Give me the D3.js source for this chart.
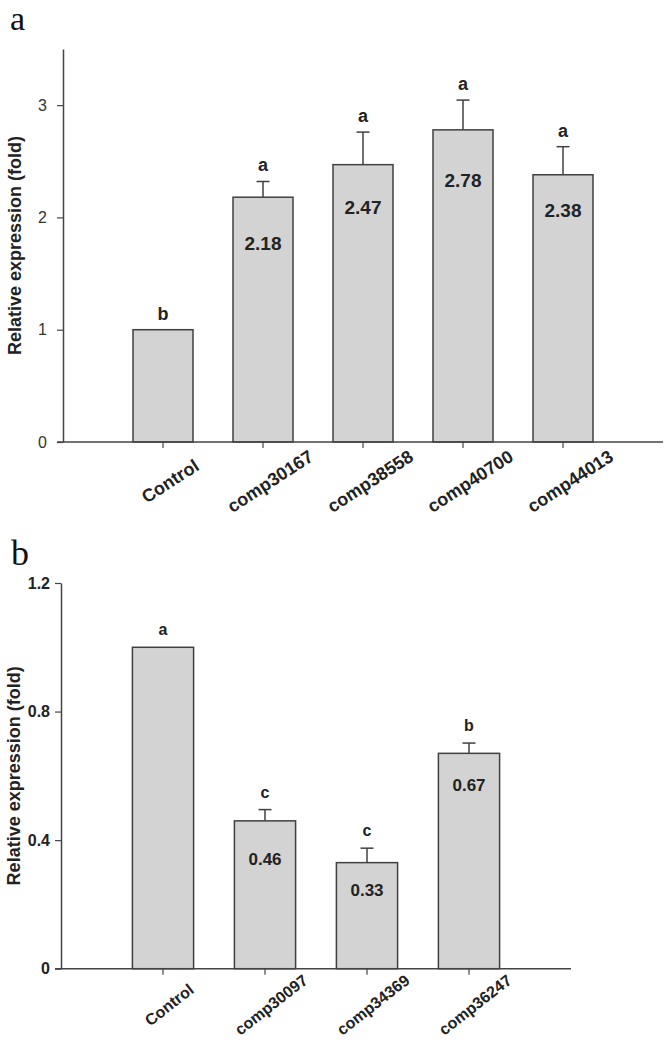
<!DOCTYPE html>
<html>
<head>
<meta charset="utf-8">
<script src="https://cdn.jsdelivr.net/npm/d3@7"></script>
<style>
  html, body { margin: 0; padding: 0; background: #fff; }
  svg { display: block; }
  text { font-family: "Liberation Sans", Arial, sans-serif; }
</style>
</head>
<body>
<svg id="chart" width="666" height="1046"></svg>
<script>
// ---------- Data ----------
const categoriesA = ["Control", "comp30167", "comp38558", "comp40700", "comp44013"];
const valuesA     = [1.00, 2.18, 2.47, 2.78, 2.38];
const errorsA     = [0, 0.14, 0.29, 0.265, 0.25];
const lettersA    = ["b", "a", "a", "a", "a"];
const valueTextA  = ["", "2.18", "2.47", "2.78", "2.38"];
const ticksA      = [0, 1, 2, 3];

const categoriesB = ["Control", "comp30097", "comp34369", "comp36247"];
const valuesB     = [1.00, 0.46, 0.33, 0.67];
const errorsB     = [0, 0.035, 0.045, 0.032];
const lettersB    = ["a", "c", "c", "b"];
const valueTextB  = ["", "0.46", "0.33", "0.67"];
const ticksB      = [0, 0.4, 0.8, 1.2];

const yTitle = "Relative expression (fold)";

// ---------- Layout (not data) ----------
const panels = [
  {
    tag: "a", tagX: 10, tagY: 30, tagSize: 34,
    cats: categoriesA, vals: valuesA, errs: errorsA, letters: lettersA, vtext: valueTextA,
    ticks: ticksA, tickFmt: d => d3.format("d")(d),
    yDomain: [0, 3.5], yRange: [442, 49], xRange: [63, 663],
    tickFont: "400 16px", tickPad: 10, tickColor: "#333",
    letterFont: 18, letterGap: 10, valueFont: 19, valueDy: [0, 46, 43, 50, 35],
    xLabFont: 18, xLabAngle: -33, xLabDx: 7, xLabDy: 39,
    titleX: 21, titleFont: 18
  },
  {
    tag: "b", tagX: 11, tagY: 565, tagSize: 36,
    cats: categoriesB, vals: valuesB, errs: errorsB, letters: lettersB, vtext: valueTextB,
    ticks: ticksB, tickFmt: d => d === 0 ? "0" : d3.format(".1f")(d),
    yDomain: [0, 1.2], yRange: [968.7, 583], xRange: [61, 571],
    tickFont: "700 16px", tickPad: 5, tickColor: "#222",
    letterFont: 16, letterGap: 12, valueFont: 17, valueDy: [0, 38, 27, 32],
    xLabFont: 16, xLabAngle: -38, xLabDx: 6, xLabDy: 36,
    titleX: 20, titleFont: 18
  }
];

const svg = d3.select("#chart");
const axisColor = "#444";
const barFill = "#d3d3d3";
const barStroke = "#404040";

panels.forEach(p => {
  const g = svg.append("g");
  const x = d3.scaleBand().domain(p.cats).range(p.xRange).paddingInner(0.4).paddingOuter(0.7);
  const y = d3.scaleLinear().domain(p.yDomain).range(p.yRange);
  const y0 = y(0);

  // panel tag
  g.append("text")
    .attr("x", p.tagX).attr("y", p.tagY)
    .style("font-family", "'Liberation Serif', 'Times New Roman', serif")
    .style("font-size", p.tagSize + "px")
    .attr("fill", "#111")
    .text(p.tag);

  const data = p.cats.map((c, i) => ({ c, v: p.vals[i], e: p.errs[i], l: p.letters[i], t: p.vtext[i], dy: p.valueDy[i] }));

  // error bars
  data.filter(d => d.e > 0).forEach(d => {
    const cx = x(d.c) + x.bandwidth() / 2;
    g.append("line")
      .attr("x1", cx).attr("x2", cx)
      .attr("y1", y(d.v)).attr("y2", y(d.v + d.e))
      .attr("stroke", barStroke).attr("stroke-width", 1.5);
    g.append("line")
      .attr("x1", cx - 6.5).attr("x2", cx + 6.5)
      .attr("y1", y(d.v + d.e)).attr("y2", y(d.v + d.e))
      .attr("stroke", barStroke).attr("stroke-width", 1.5);
  });

  // bars
  g.selectAll("rect.bar").data(data).join("rect")
    .attr("class", "bar")
    .attr("x", d => x(d.c))
    .attr("width", x.bandwidth())
    .attr("y", d => y(d.v))
    .attr("height", d => y0 - y(d.v))
    .attr("fill", barFill)
    .attr("stroke", barStroke)
    .attr("stroke-width", 1.5);

  // significance letters
  g.selectAll("text.letter").data(data).join("text")
    .attr("class", "letter")
    .attr("x", d => x(d.c) + x.bandwidth() / 2)
    .attr("y", d => y(d.v + d.e) - p.letterGap)
    .attr("text-anchor", "middle")
    .style("font-weight", "700")
    .style("font-size", p.letterFont + "px")
    .attr("fill", "#222")
    .text(d => d.l);

  // value labels inside bars
  g.selectAll("text.val").data(data.filter(d => d.t)).join("text")
    .attr("class", "val")
    .attr("x", d => x(d.c) + x.bandwidth() / 2)
    .attr("y", d => y(d.v) + d.dy)
    .attr("dy", "0.36em")
    .attr("text-anchor", "middle")
    .style("font-weight", "700")
    .style("font-size", p.valueFont + "px")
    .attr("fill", "#222")
    .text(d => d.t);

  // y axis
  const yAxis = d3.axisLeft(y).tickValues(p.ticks).tickFormat(p.tickFmt)
    .tickSize(6).tickSizeOuter(0).tickPadding(p.tickPad);
  const ya = g.append("g").attr("transform", `translate(${p.xRange[0]},0)`).call(yAxis);
  ya.select(".domain").attr("stroke", axisColor).attr("stroke-width", 1.5);
  ya.selectAll(".tick line").attr("stroke", axisColor).attr("stroke-width", 1.2);
  ya.selectAll(".tick text")
    .style("font", p.tickFont + " 'Liberation Sans', Arial, sans-serif")
    .attr("fill", p.tickColor);

  // x axis
  const xAxis = d3.axisBottom(x).tickSize(6).tickSizeOuter(0).tickFormat("");
  const xa = g.append("g").attr("transform", `translate(0,${y0})`).call(xAxis);
  xa.select(".domain").remove();
  xa.selectAll(".tick line").attr("stroke", axisColor).attr("stroke-width", 1.2);
  g.append("line")
    .attr("x1", p.xRange[0] - 6).attr("x2", p.xRange[1])
    .attr("y1", y0).attr("y2", y0)
    .attr("stroke", axisColor).attr("stroke-width", 1.5);

  // rotated category labels
  g.selectAll("text.xlab").data(p.cats).join("text")
    .attr("class", "xlab")
    .attr("transform", c => `translate(${x(c) + x.bandwidth() / 2 + p.xLabDx},${y0 + p.xLabDy}) rotate(${p.xLabAngle})`)
    .attr("text-anchor", "middle")
    .attr("dy", "0.36em")
    .style("font-weight", "700")
    .style("font-size", p.xLabFont + "px")
    .attr("fill", "#222")
    .text(c => c);

  // y title
  const midY = (p.yRange[0] + p.yRange[1]) / 2;
  g.append("text")
    .attr("transform", `translate(${p.titleX},${midY}) rotate(-90)`)
    .attr("text-anchor", "middle")
    .style("font-weight", "700")
    .style("font-size", p.titleFont + "px")
    .attr("fill", "#222")
    .text(yTitle);
});
</script>
</body>
</html>
